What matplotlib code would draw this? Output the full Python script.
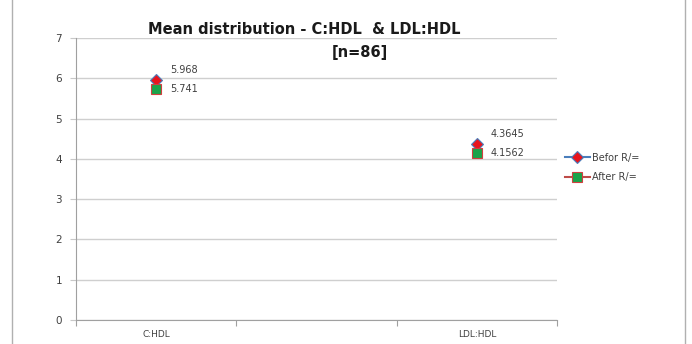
import numpy as np
import matplotlib.pyplot as plt
import matplotlib as mpl

mpl.rcParams['font.family'] = ['DejaVu Sans']

categories = ["C:HDL", "", "LDL:HDL"]
befor = [5.968, np.nan, 4.3645]
after = [5.741, np.nan, 4.1562]
befor_labels = ["5.968", "", "4.3645"]
after_labels = ["5.741", "", "4.1562"]
yticks = [0, 1, 2, 3, 4, 5, 6, 7]

W, H = 692, 344
fig = plt.figure(figsize=(W / 100, H / 100), dpi=100)
ax = fig.add_axes([76 / W, 1 - 320 / H, (557 - 76) / W, (320 - 38) / H])

x = np.arange(len(categories))
l1, = ax.plot(x, befor, color='#4a7ebb', lw=1.5, marker='D', ms=6,
              mfc='#e8141c', mec='#4a7ebb', mew=0.8, label='Befor R/=')
l2, = ax.plot(x, after, color='#be4b48', lw=1.5, marker='s', ms=7,
              mfc='#1aa34a', mec='#d04040', mew=0.8, label='After R/=')

for i in range(len(categories)):
    if befor_labels[i]:
        ax.annotate(befor_labels[i], (x[i], befor[i]), xytext=(10, 7),
                    textcoords='offset points', fontsize=7, color='#404040',
                    va='center', ha='left')
    if after_labels[i]:
        ax.annotate(after_labels[i], (x[i], after[i]), xytext=(10, 0),
                    textcoords='offset points', fontsize=7, color='#404040',
                    va='center', ha='left')

ax.set_xlim(-0.5, len(categories) - 0.5)
ax.set_ylim(0, 7)
ax.set_yticks(yticks)
ax.set_xticks(np.arange(len(categories) + 1) - 0.5)
ax.set_xticklabels([])
ax.set_xticks(x[[0, 2]], [categories[0], categories[2]], minor=True)
ax.tick_params(axis='x', which='minor', length=0, pad=7, labelsize=6.5,
               labelcolor='#404040')
ax.tick_params(axis='x', which='major', length=4, color='#a0a0a0')
ax.tick_params(axis='y', length=4, color='#c8c8c8', labelsize=7.5,
               labelcolor='#404040', pad=6)

ax.yaxis.grid(True, color='#cfcfcf', lw=1)
ax.set_axisbelow(True)
for s in ['top', 'right']:
    ax.spines[s].set_visible(False)
ax.spines['left'].set_color('#a0a0a0')
ax.spines['bottom'].set_color('#a0a0a0')

fig.text(304 / W, 1 - 30 / H, "Mean distribution - C:HDL  & LDL:HDL",
         fontsize=10.5, fontweight='bold', ha='center', va='center',
         color='#1a1a1a')
fig.text(360 / W, 1 - 52 / H, "[n=86]", fontsize=10.5, fontweight='bold',
         ha='center', va='center', color='#1a1a1a')

fig.legend(handles=[l1, l2], loc='upper left',
           bbox_to_anchor=(556 / W, 1 - 144 / H), frameon=False,
           fontsize=7, handlelength=2.6, handletextpad=0.2,
           labelspacing=1.0, labelcolor='#404040')

# outer chart border
fig.add_artist(plt.Rectangle((12 / W, -0.01), (685 - 12) / W, 1.02,
                             transform=fig.transFigure, fill=False,
                             edgecolor='#b0b0b0', lw=1))

fig.savefig("out.png", dpi=100)
